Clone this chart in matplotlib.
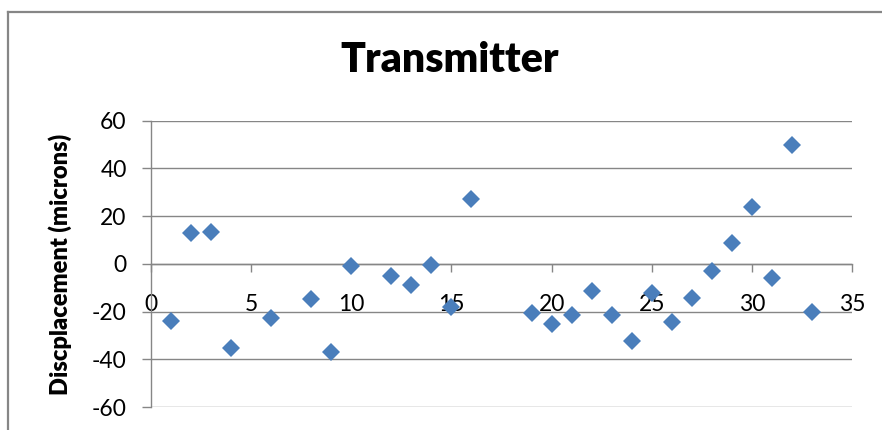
import matplotlib
matplotlib.use("Agg")
import matplotlib.pyplot as plt
from matplotlib.lines import Line2D

# measurement index and displacement readings (microns)
x_values = [1, 2, 3, 4, 6, 8, 9, 10, 12, 13, 14, 15, 16,
            19, 20, 21, 22, 23, 24, 25, 26, 27, 28, 29, 30, 31, 32, 33]
displacement = [-24.0, 12.8, 13.3, -35.4, -22.6, -14.9, -37.1, -0.8, -5.0, -8.9, -0.3, -18.0, 27.2,
                -20.8, -25.2, -21.5, -11.4, -21.5, -32.3, -12.4, -24.3, -14.4, -2.9, 8.9, 23.9, -6.1, 50.0, -20.3]

x_ticks = [0, 5, 10, 15, 20, 25, 30, 35]
y_ticks = [-60, -40, -20, 0, 20, 40, 60]

title = "Transmitter"
y_label = "Discplacement (microns)"

grey = "#868686"
blue = "#4A7EBB"

plt.rcParams["font.family"] = ["Lato", "DejaVu Sans"]
plt.rcParams["axes.unicode_minus"] = False

fig = plt.figure(figsize=(8.82, 4.30), dpi=100)
ax = fig.add_axes([151 / 882, 23 / 430, 701 / 882, 286.3 / 430])

ax.plot(x_values, displacement, linestyle="none", marker="D",
        markersize=9.5, markeredgewidth=0, color=blue, zorder=3, clip_on=False)

ax.set_xlim(0, 35)
ax.set_ylim(-60, 60)
ax.set_xticks(x_ticks)
ax.set_yticks(y_ticks)

ax.grid(axis="y", color=grey, linewidth=1.0)
ax.set_axisbelow(True)

for side in ["top", "right"]:
    ax.spines[side].set_visible(False)
ax.spines["bottom"].set_position(("data", 0))
ax.spines["bottom"].set_color(grey)
ax.spines["left"].set_color(grey)
ax.spines["bottom"].set_linewidth(1.0)
ax.spines["left"].set_linewidth(1.0)

ax.tick_params(axis="x", direction="out", length=5.8, width=1.0, color=grey,
               labelsize=16.5, pad=16)
ax.tick_params(axis="y", direction="out", length=6.5, width=1.0, color=grey,
               labelsize=16.5, pad=11)

fig.text(450 / 882, 1 - 71.7 / 430, title, ha="center", va="baseline",
         fontsize=29.5, fontweight="heavy")
fig.text(60 / 882, 1 - 264 / 430, y_label, ha="center", va="center",
         rotation=90, fontsize=17, fontweight="heavy")

# chart frame (only left and top edges fall inside the image)
fig.add_artist(Line2D([8 / 882, 8 / 882], [0, 1 - 12 / 430], color=grey, linewidth=1.6))
fig.add_artist(Line2D([8 / 882, 1], [1 - 12 / 430, 1 - 12 / 430], color=grey, linewidth=1.6))

fig.savefig("out.png", dpi=100)
